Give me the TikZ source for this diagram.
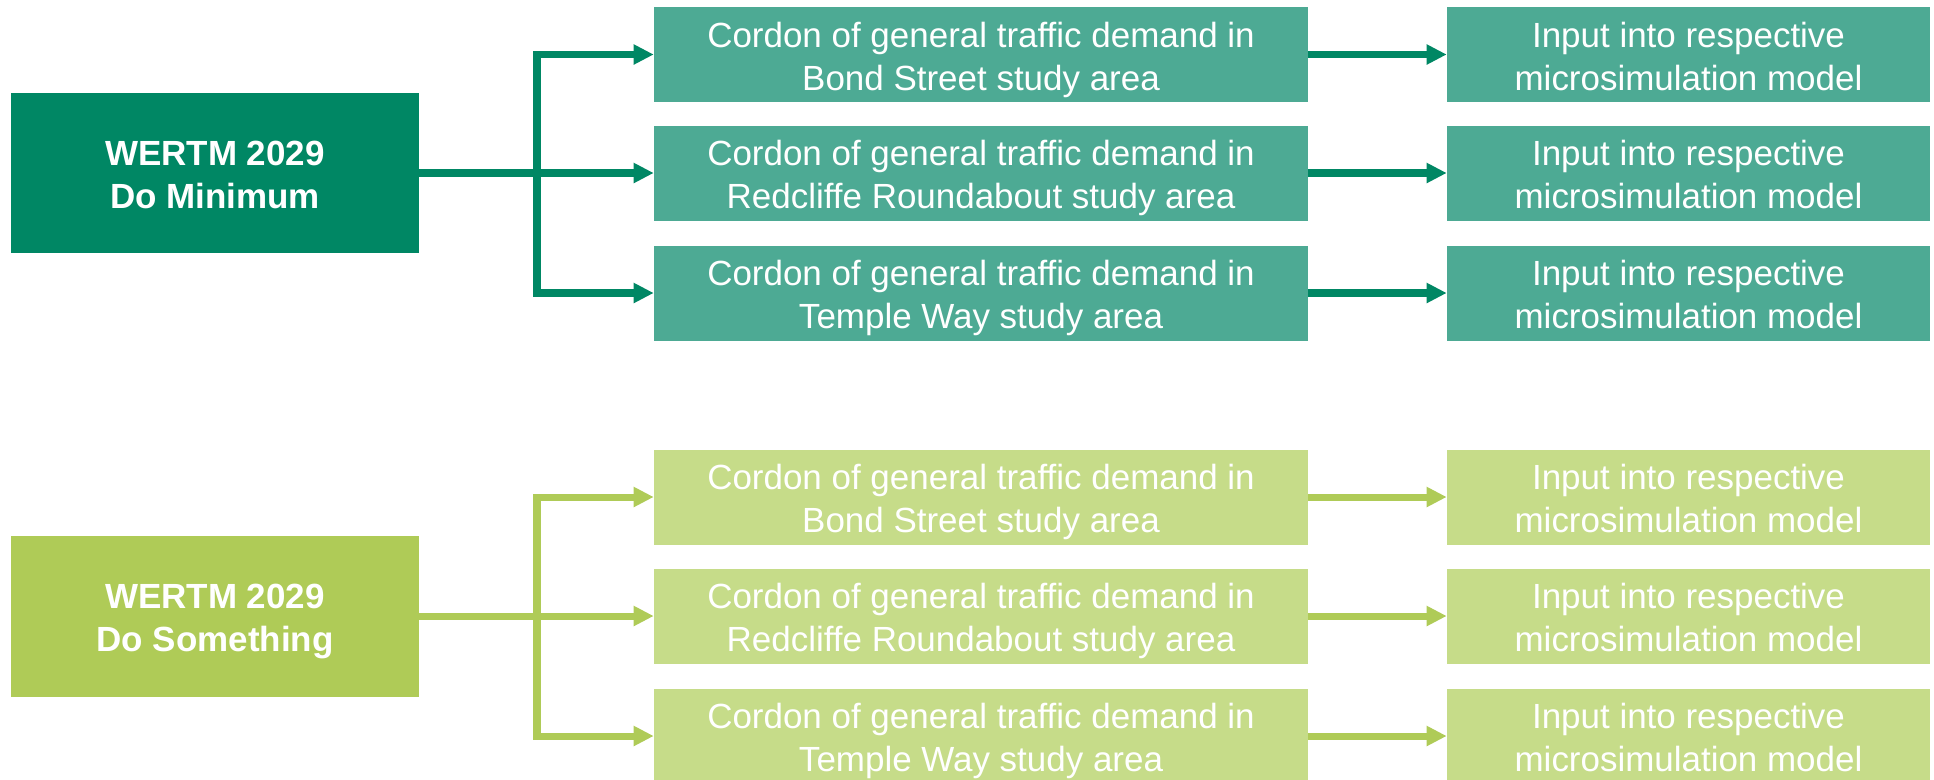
\documentclass[tikz,border=0pt]{standalone}
\usepackage{fontspec}
\setmainfont{Liberation Sans}
\usetikzlibrary{arrows.meta}

\definecolor{dmdark}{RGB}{0,135,100}
\definecolor{dmlight}{RGB}{77,170,148}
\definecolor{dsdark}{RGB}{175,203,87}
\definecolor{dslight}{RGB}{198,220,137}

% two lines of box text, with fixed room above and below
\newcommand{\twolines}[2]{\rule{0pt}{21pt}#1\\#2\rule[-5pt]{0pt}{5pt}}

\tikzset{
  box/.style={inner sep=0pt, align=center, text=white,
    font=\fontsize{19.9pt}{24.4pt}\selectfont},
  scenario/.style={box, minimum width=8.16cm, minimum height=3.22cm,
    font=\fontsize{19.9pt}{24.4pt}\selectfont\bfseries},
  cordon/.style={box, minimum width=13.08cm, minimum height=1.9cm},
  model/.style={box, minimum width=9.66cm, minimum height=1.9cm},
  feed/.style={line width=4pt, -{Triangle[length=0.4cm, width=0.38cm]}}
}

\begin{document}
\begin{tikzpicture}[x=0.02cm, y=-0.02cm]
\useasboundingbox (0,0) rectangle (1934,779);

% Do Minimum
\node[scenario, fill=dmdark] (dm) at (215,173) {\twolines{WERTM 2029}{Do Minimum}};
\node[cordon, fill=dmlight] (dmbond) at (981,54.5) {\twolines{Cordon of general traffic demand in}{Bond Street study area}};
\node[cordon, fill=dmlight] (dmred) at (981,173) {\twolines{Cordon of general traffic demand in}{Redcliffe Roundabout study area}};
\node[cordon, fill=dmlight] (dmtemple) at (981,293) {\twolines{Cordon of general traffic demand in}{Temple Way study area}};
\node[model, fill=dmlight] (dmbondin) at (1688.5,54.5) {\twolines{Input into respective}{microsimulation model}};
\node[model, fill=dmlight] (dmredin) at (1688.5,173) {\twolines{Input into respective}{microsimulation model}};
\node[model, fill=dmlight] (dmtemplein) at (1688.5,293) {\twolines{Input into respective}{microsimulation model}};
\coordinate (dmsplit) at (537,173);

\draw[line width=4pt, dmdark] (dm.east) -- (dmsplit);
\draw[feed, dmdark] (dmsplit) |- (dmbond.west);
\draw[feed, dmdark] (dmsplit) -- (dmred.west);
\draw[feed, dmdark] (dmsplit) |- (dmtemple.west);
\draw[feed, dmdark] (dmbond) -- (dmbondin);
\draw[feed, dmdark] (dmred) -- (dmredin);
\draw[feed, dmdark] (dmtemple) -- (dmtemplein);

% Do Something
\node[scenario, fill=dsdark] (ds) at (215,616) {\twolines{WERTM 2029}{Do Something}};
\node[cordon, fill=dslight] (dsbond) at (981,497) {\twolines{Cordon of general traffic demand in}{Bond Street study area}};
\node[cordon, fill=dslight] (dsred) at (981,616) {\twolines{Cordon of general traffic demand in}{Redcliffe Roundabout study area}};
\node[cordon, fill=dslight] (dstemple) at (981,736) {\twolines{Cordon of general traffic demand in}{Temple Way study area}};
\node[model, fill=dslight] (dsbondin) at (1688.5,497) {\twolines{Input into respective}{microsimulation model}};
\node[model, fill=dslight] (dsredin) at (1688.5,616) {\twolines{Input into respective}{microsimulation model}};
\node[model, fill=dslight] (dstemplein) at (1688.5,736) {\twolines{Input into respective}{microsimulation model}};
\coordinate (dssplit) at (537,616);

\draw[line width=4pt, dsdark] (ds.east) -- (dssplit);
\draw[feed, dsdark] (dssplit) |- (dsbond.west);
\draw[feed, dsdark] (dssplit) -- (dsred.west);
\draw[feed, dsdark] (dssplit) |- (dstemple.west);
\draw[feed, dsdark] (dsbond) -- (dsbondin);
\draw[feed, dsdark] (dsred) -- (dsredin);
\draw[feed, dsdark] (dstemple) -- (dstemplein);
\end{tikzpicture}
\end{document}
